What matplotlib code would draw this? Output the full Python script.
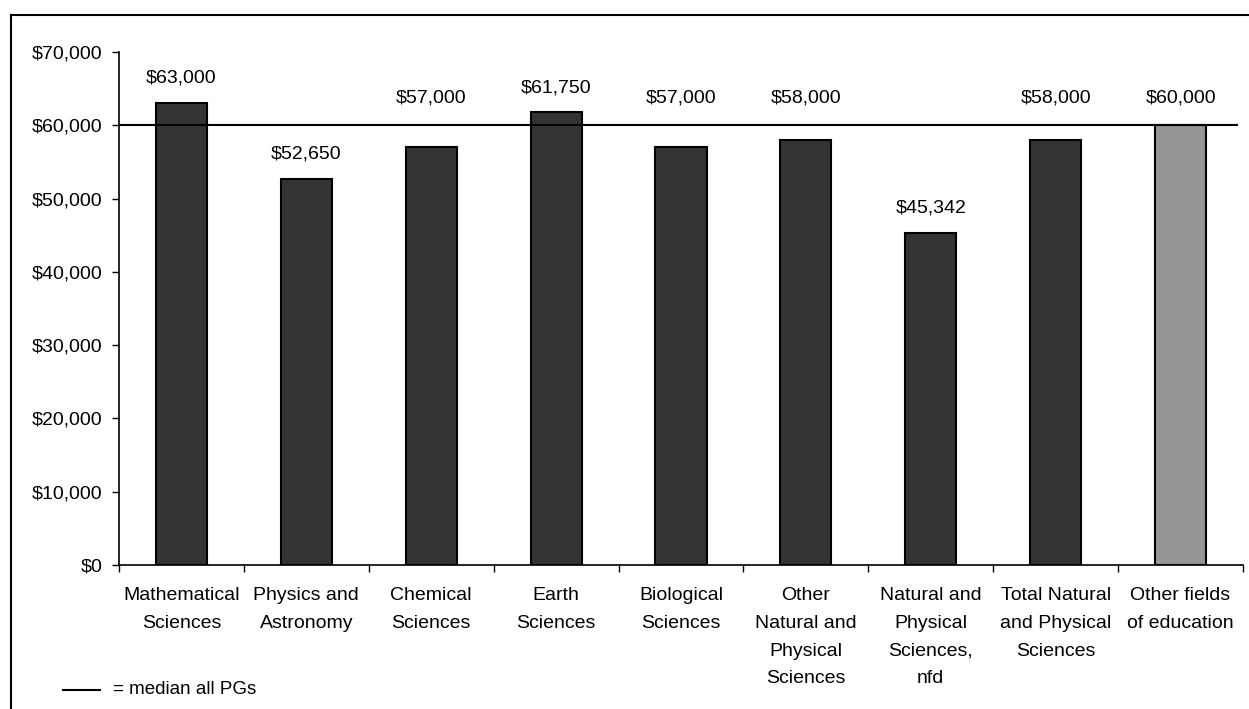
import matplotlib
matplotlib.use("Agg")
import matplotlib.pyplot as plt
from matplotlib.lines import Line2D
from matplotlib.ticker import FuncFormatter, FixedLocator

plt.rcParams['font.family'] = ['Liberation Sans', 'DejaVu Sans']

categories = [
    "Mathematical\nSciences",
    "Physics and\nAstronomy",
    "Chemical\nSciences",
    "Earth\nSciences",
    "Biological\nSciences",
    "Other\nNatural and\nPhysical\nSciences",
    "Natural and\nPhysical\nSciences,\nnfd",
    "Total Natural\nand Physical\nSciences",
    "Other fields\nof education",
]
salaries = [63000, 52650, 57000, 61750, 57000, 58000, 45342, 58000, 60000]
bar_colors = ["#333333"] * 8 + ["#969696"]
median_all = 60000

W, H = 1249, 709
fig = plt.figure(figsize=(W / 100, H / 100), dpi=100)
ax = fig.add_axes([119 / W, 1 - 565 / H, (1243 - 119) / W, (565 - 52) / H])

x = list(range(len(categories)))
ax.bar(x, salaries, width=0.41, color=bar_colors, edgecolor="black",
       linewidth=1.5, zorder=2)

# value labels sit above each bar; those that would cross the median line
# are lifted clear of it
label_gap = 3400
for xi, v in zip(x, salaries):
    y = v + label_gap
    if abs(y - median_all) < 3500:
        y = median_all + 3700
    ax.text(xi, y, f"${v:,.0f}", ha="center", va="center", fontsize=14)

ax.axhline(median_all, xmin=0, xmax=0.995, color="black", linewidth=1.5, zorder=3)

ax.set_xlim(-0.5, len(categories) - 0.5)
ax.set_ylim(0, 70000)
ax.set_yticks(range(0, 70001, 10000))
ax.yaxis.set_major_formatter(FuncFormatter(lambda v, p: f"${v:,.0f}"))

ax.set_xticks(x)
ax.set_xticklabels(categories, linespacing=1.82)
ax.xaxis.set_minor_locator(FixedLocator([i - 0.5 for i in range(len(categories) + 1)]))
ax.tick_params(axis="x", which="major", length=0, pad=16, labelsize=14)
ax.tick_params(axis="x", which="minor", length=5, width=1, direction="out")
ax.tick_params(axis="y", length=5, width=1, direction="out", pad=7, labelsize=14)

for s in ("top", "right"):
    ax.spines[s].set_visible(False)
for s in ("left", "bottom"):
    ax.spines[s].set_linewidth(1.2)

# median key in the lower left
fig.add_artist(Line2D([63 / W, 100 / W], [1 - 690 / H, 1 - 690 / H],
                      color="black", linewidth=1.5))
fig.text(113 / W, 1 - 690 / H, "= median all PGs", ha="left", va="center",
         fontsize=13.5)

# outer frame
fig.add_artist(Line2D([11 / W, 11 / W], [0, 1 - 15 / H], color="black", linewidth=1.5))
fig.add_artist(Line2D([11 / W, 1], [1 - 15 / H, 1 - 15 / H], color="black", linewidth=1.5))

fig.savefig("out.png", dpi=100)
